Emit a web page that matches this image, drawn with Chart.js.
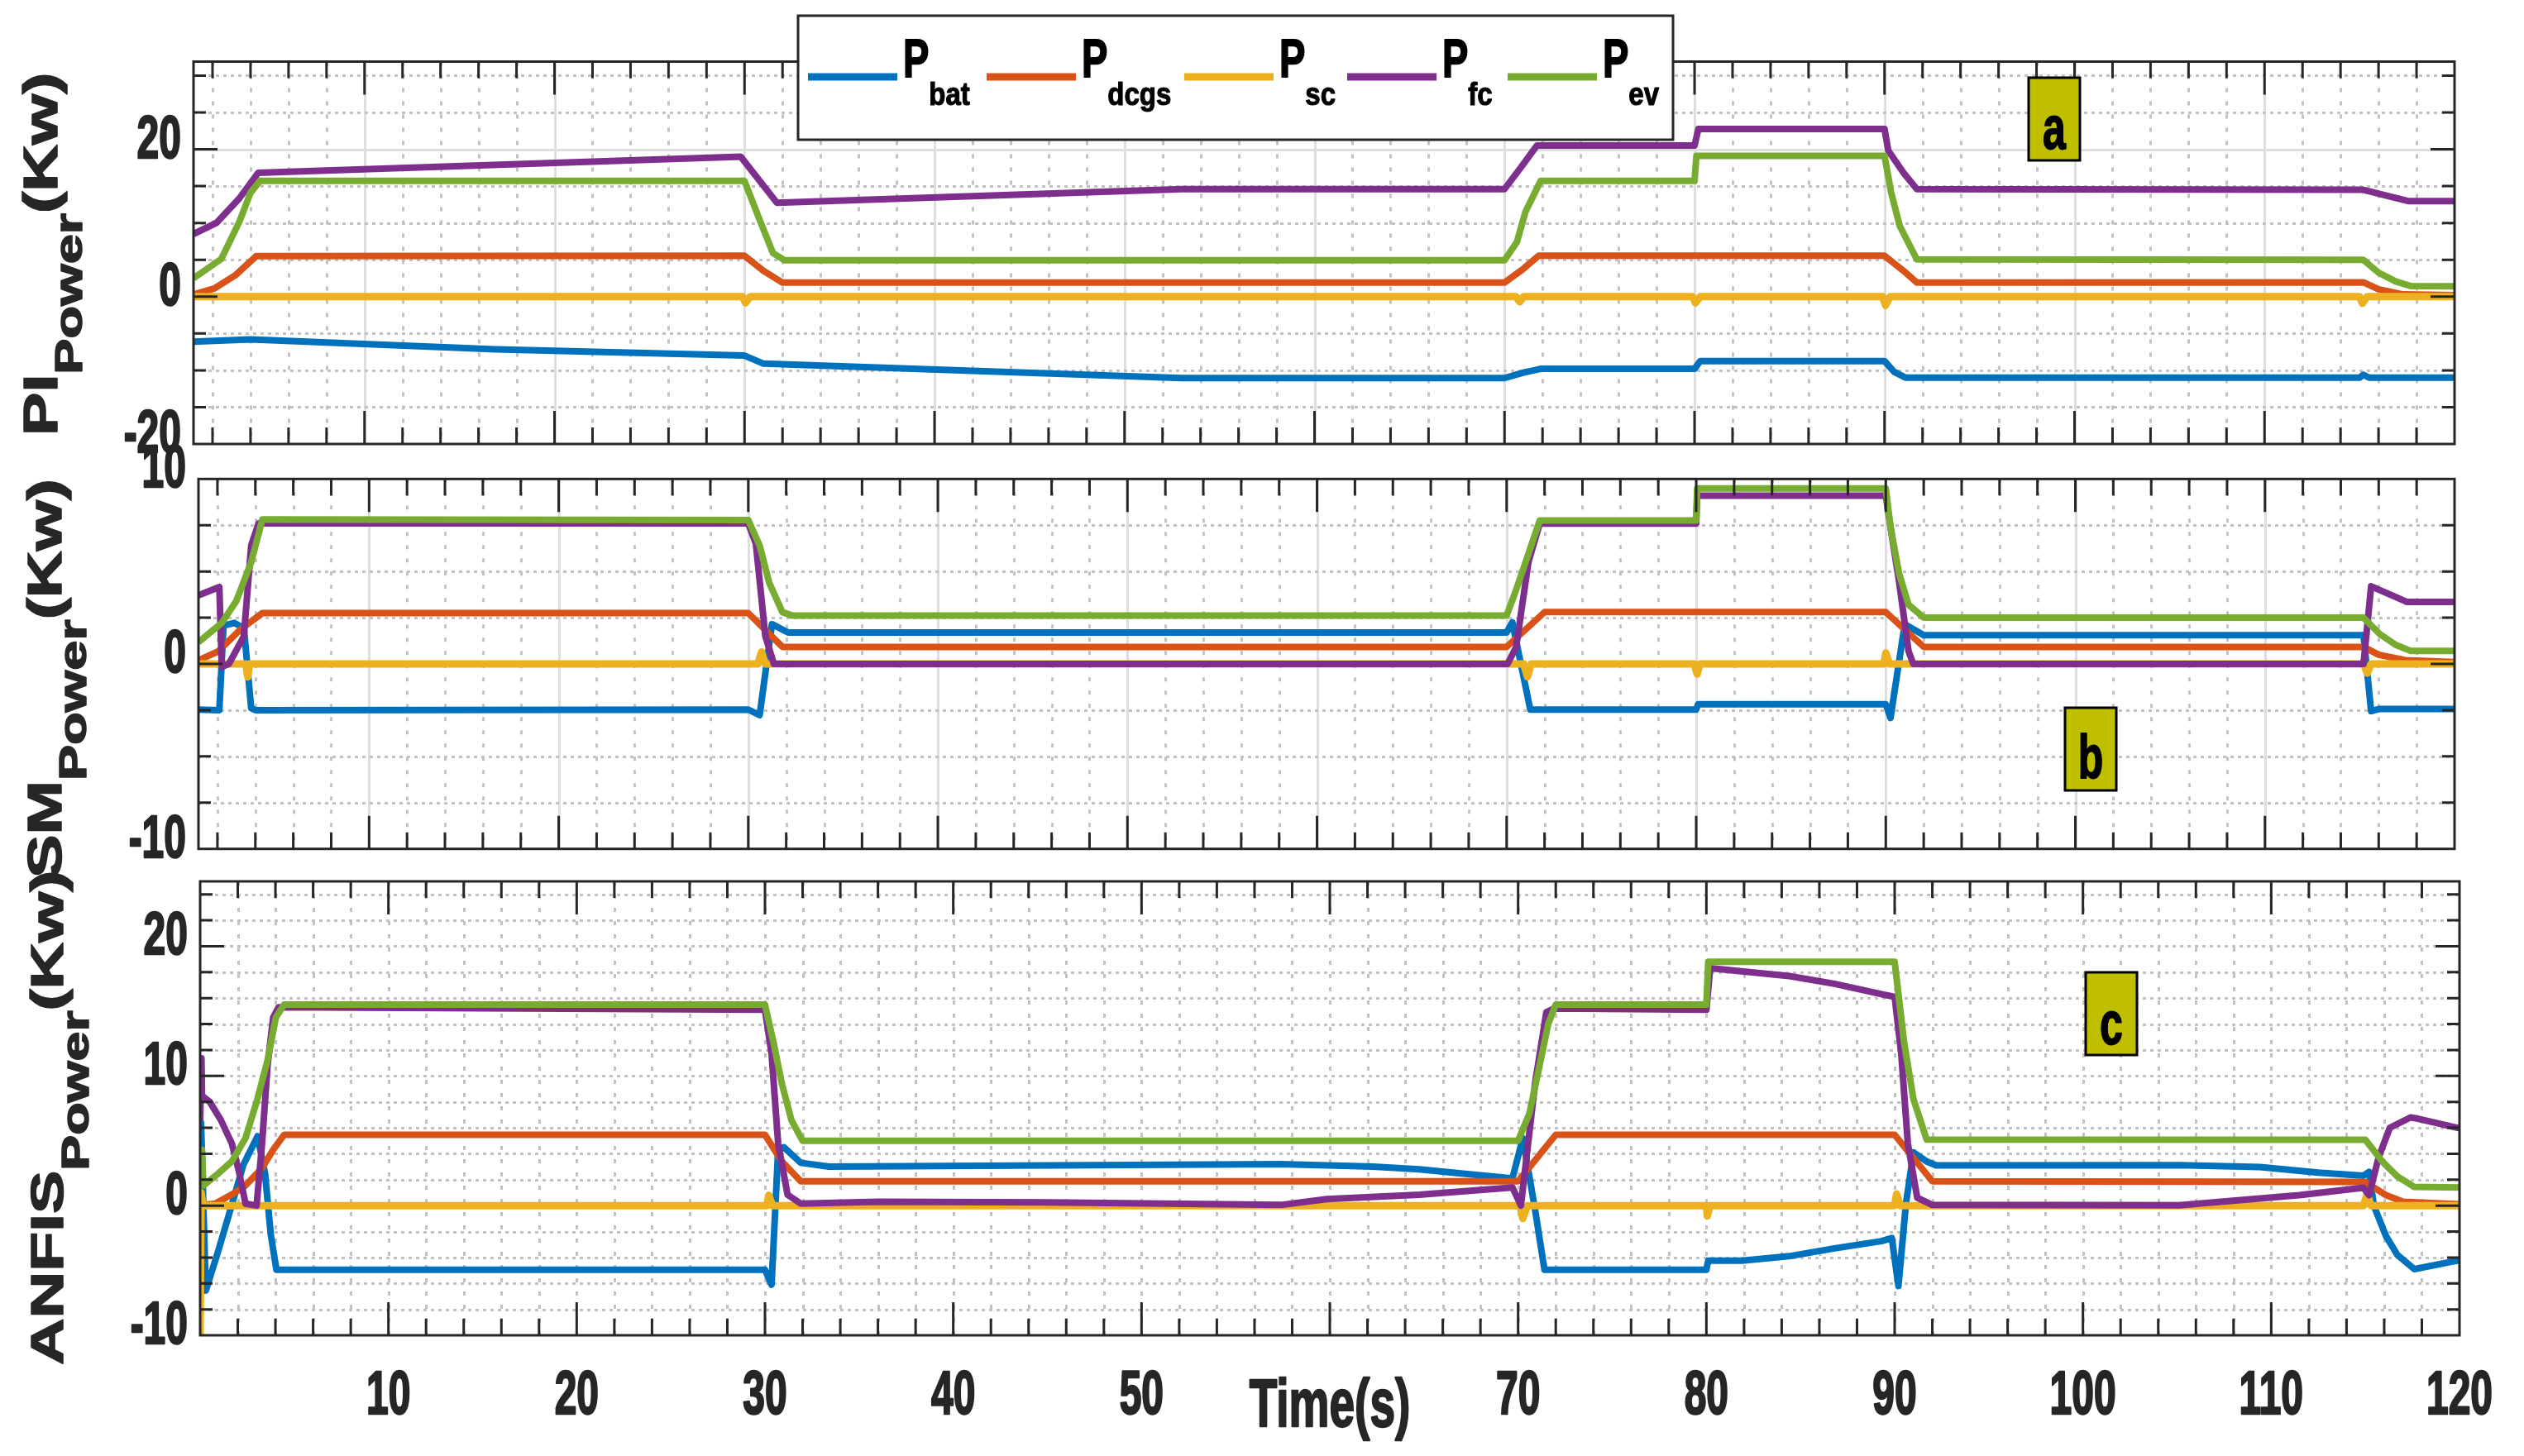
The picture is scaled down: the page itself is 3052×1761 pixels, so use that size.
<!DOCTYPE html>
<html>
<head>
<meta charset="utf-8">
<script src="https://cdn.jsdelivr.net/npm/chart.js@4.4.1/dist/chart.umd.min.js"></script>
<style>
html,body{margin:0;padding:0;background:#ffffff;}
#wrap{position:relative;width:3052px;height:1761px;overflow:hidden;background:#fff;}
canvas{position:absolute;left:0;top:0;}
</style>
</head>
<body>
<div id="wrap">
<canvas id="ca" width="3052" height="1761"></canvas>
<canvas id="cb" width="3052" height="1761"></canvas>
<canvas id="cc" width="3052" height="1761"></canvas>
</div>
<script>
// ---------------- DATA ----------------
const SERIES = ['bat', 'dcgs', 'sc', 'fc', 'ev'];
const COLORS = ['#0072BD', '#D95319', '#EDB120', '#7E2F8E', '#77AC30'];

const X_TICK_LABELS = [10, 20, 30, 40, 50, 70, 80, 90, 100, 110, 120];
const Y_TICKS_A = [-20, 0, 20];
const Y_TICKS_B = [-10, 0, 10];
const Y_TICKS_C = [-10, 0, 10, 20];

// Panel a : PI
const A_BAT_T = [1, 4, 16.9, 30, 31, 53, 70, 71, 71.9, 80, 80.3, 90, 90.5, 91.1, 115, 115.2, 115.5, 120];
const A_BAT_V = [-6.1, -5.8, -7.15, -8.0, -9.1, -11.05, -11.05, -10.3, -9.8, -9.8, -8.75, -8.75, -10.2, -11.0, -11.0, -10.6, -11.0, -11.0];
const A_DCGS_T = [1, 2.1, 3.2, 4.3, 30, 31, 32, 70, 71, 71.8, 90, 91, 91.7, 115.2, 116, 117.3, 120];
const A_DCGS_V = [0.3, 1.1, 2.9, 5.5, 5.55, 3.5, 1.9, 1.9, 3.8, 5.55, 5.55, 3.5, 1.9, 1.94, 1.0, 0.3, 0.2];
const A_SC_T = [1, 29.9, 30.05, 30.3, 70.6, 70.8, 71, 79.9, 80.05, 80.3, 89.9, 90.05, 90.3, 115, 115.15, 115.4, 120];
const A_SC_V = [0, 0, -0.85, 0, 0, -0.7, 0, 0, -0.85, 0, 0, -1.2, 0, 0, -0.9, 0, 0];
const A_FC_T = [1, 2.2, 3.4, 4.0, 4.4, 29.8, 31.7, 53, 70, 70.85, 71.7, 80, 80.2, 90, 90.2, 91, 91.7, 115.2, 117.6, 120];
const A_FC_V = [8.5, 10, 13.3, 15.4, 16.8, 19.0, 12.75, 14.6, 14.6, 17.5, 20.5, 20.5, 22.75, 22.75, 19.8, 16.8, 14.6, 14.5, 12.95, 12.95];
const A_EV_T = [1, 2.46, 3.42, 4.0, 4.5, 30, 30.8, 31.5, 32.1, 70, 70.65, 71.1, 71.9, 80, 80.1, 90, 90.35, 90.8, 91.7, 115.2, 116, 116.9, 117.7, 120];
const A_EV_V = [2.5, 5.1, 10.2, 14.1, 15.7, 15.7, 10.4, 5.9, 4.95, 4.95, 7.4, 11.5, 15.7, 15.7, 19.1, 19.1, 14.1, 9.6, 5.05, 5.0, 3.26, 2.07, 1.43, 1.4];

// Panel b : SM
const B_BAT_T = [1, 2.1, 2.32, 2.9, 3.4, 3.78, 4.0, 30, 30.6, 31.25, 32.1, 70, 70.3, 71.25, 80, 80.1, 90, 90.25, 91, 92, 115.2, 115.6, 116, 120];
const B_BAT_V = [-2.47, -2.5, 2.07, 2.22, 1.92, -2.4, -2.5, -2.47, -2.77, 2.15, 1.7, 1.7, 2.25, -2.47, -2.47, -2.18, -2.18, -2.92, 2.15, 1.55, 1.55, -2.55, -2.44, -2.44];
const B_DCGS_T = [1, 2.03, 3.2, 4.37, 30, 31.8, 70, 72.0, 90, 92, 115.2, 116, 117.4, 120];
const B_DCGS_V = [0.2, 0.67, 1.85, 2.75, 2.75, 0.92, 0.92, 2.8, 2.8, 0.92, 0.92, 0.5, 0.2, 0.1];
const B_SC_T = [1, 3.5, 3.6, 3.7, 30.5, 30.7, 30.9, 70.9, 71.1, 71.3, 79.9, 80.05, 80.2, 89.9, 90, 90.2, 115.2, 115.4, 115.6, 120];
const B_SC_V = [0, 0, -0.7, 0, 0, 0.65, 0, 0, -0.7, 0, 0, -0.55, 0, 0, 0.6, 0, 0, -0.5, 0, 0];
const B_FC_T = [1, 2.1, 2.23, 2.6, 3.39, 3.78, 4.17, 30, 30.4, 30.9, 31.35, 70.05, 70.5, 71.15, 71.75, 80, 80.05, 90, 90.25, 90.7, 91.2, 91.45, 115.2, 115.6, 117.5, 120];
const B_FC_V = [3.71, 4.16, -0.16, 0, 1.48, 6.4, 7.6, 7.6, 6.5, 1.5, 0, 0, 0.9, 5.5, 7.59, 7.59, 9.1, 9.1, 7.4, 4.45, 0.7, 0, 0, 4.2, 3.35, 3.35];
const B_EV_T = [1, 2.23, 3.0, 3.78, 4.37, 30, 30.6, 31.1, 31.8, 32.3, 70, 70.5, 71.0, 71.75, 80, 80.05, 90, 90.25, 90.7, 91.2, 92, 115.2, 116.05, 116.9, 117.7, 120];
const B_EV_V = [1.18, 2.22, 3.41, 5.5, 7.81, 7.78, 6.4, 4.4, 2.8, 2.62, 2.62, 4.0, 5.5, 7.76, 7.76, 9.49, 9.49, 7.4, 4.9, 3.2, 2.5, 2.5, 1.62, 1.03, 0.7, 0.7];

// Panel c : ANFIS
const C_BAT_T = [0, 0.05, 0.3, 0.95, 1.7, 2.3, 3.05, 3.45, 3.75, 4.05, 30, 30.35, 30.7, 31.0, 31.9, 33.4, 57.4, 62.3, 64.75, 67.2, 69.7, 70.25, 70.9, 71.4, 80, 80.1, 81.9, 84.4, 86.8, 89.3, 89.85, 90.2, 90.6, 91, 91.7, 92.2, 105.1, 109.4, 112.5, 114.9, 115.2, 115.45, 116.1, 116.7, 117.6, 119.9, 120];
const C_BAT_V = [1.0, 6.4, -6.56, -3.55, 0.15, 3.15, 5.35, 2.46, -2.2, -4.94, -4.94, -6.1, 4.3, 4.5, 3.3, 3.0, 3.2, 3.0, 2.8, 2.45, 2.1, 5.2, -0.3, -4.94, -4.94, -4.24, -4.24, -3.9, -3.3, -2.74, -2.5, -6.2, 0.15, 4.1, 3.4, 3.1, 3.11, 2.97, 2.54, 2.3, 2.6, 0, -2.36, -3.8, -4.9, -4.24, -4.24];
const C_DCGS_T = [0, 0.8, 1.68, 2.41, 3.29, 3.88, 4.46, 30, 30.9, 31.9, 70, 72, 90, 92, 115, 116.1, 117, 120];
const C_DCGS_V = [0, 0.15, 0.85, 1.55, 2.9, 4.3, 5.46, 5.46, 3.4, 1.88, 1.88, 5.46, 5.46, 1.88, 1.82, 0.8, 0.3, 0.1];
const C_SC_T = [0, 0.05, 0.15, 30.1, 30.2, 30.4, 70.1, 70.25, 70.5, 80, 80.05, 80.2, 90, 90.1, 90.3, 114.9, 115.1, 115.3, 120];
const C_SC_V = [-10, 1.0, 0, 0, 0.8, 0, 0, -1.0, 0, 0, -0.8, 0, 0, 0.9, 0, 0, 0.9, 0, 0];
const C_FC_T = [0, 0.07, 0.1, 0.51, 1.1, 1.68, 2.05, 2.41, 3.0, 3.29, 3.58, 3.88, 4.17, 30, 30.35, 30.7, 31.2, 31.9, 36, 45, 57.4, 59.85, 64.75, 69.7, 70.15, 70.9, 71.5, 71.9, 80, 80.2, 84.4, 86.8, 89.3, 90, 90.35, 90.7, 91.2, 92, 105.1, 111.5, 114.9, 115.2, 115.7, 116.3, 117.4, 117.8, 119.9, 120];
const C_FC_V = [6.5, 11.35, 8.47, 8.0, 6.6, 4.8, 2.7, 0.15, 0, 4.8, 10.8, 14.5, 15.3, 15.1, 11.7, 4.8, 0.84, 0.15, 0.3, 0.25, 0.05, 0.5, 0.84, 1.4, 0, 9.4, 14.9, 15.2, 15.1, 18.3, 17.7, 17.1, 16.3, 16.1, 11.7, 4.8, 0.6, 0.05, 0.03, 0.8, 1.38, 0.8, 3.7, 6.0, 6.8, 6.7, 6.0, 6.0];
const C_EV_T = [0, 0.1, 0.17, 0.95, 1.68, 2.41, 3.0, 3.58, 4.02, 4.46, 30, 30.45, 30.9, 31.4, 32, 70, 70.6, 71.1, 71.6, 72, 80, 80.1, 90, 90.5, 91, 91.7, 115, 115.9, 116.7, 117.6, 120];
const C_EV_V = [2.7, 4.3, 1.55, 2.46, 3.4, 5.2, 8.0, 11.2, 14.5, 15.5, 15.5, 12.6, 9.4, 6.6, 5.0, 5.0, 7.1, 10.5, 14.0, 15.5, 15.5, 18.8, 18.8, 12.6, 8.2, 5.1, 5.08, 3.4, 2.25, 1.44, 1.4];

// ---------------- DRAWING HELPERS ----------------
const TXT = '#262626';
const FONT = '"Liberation Sans", Arial, Helvetica, sans-serif';

function pts(t, v) { return t.map((x, i) => ({ x: x, y: v[i] })); }

function stretchText(ctx, txt, x, y, size, sy, align, color, stroke) {
  ctx.save();
  ctx.translate(x, y);
  ctx.scale(1, sy);
  ctx.font = 'bold ' + size + 'px ' + FONT;
  ctx.textAlign = align;
  ctx.textBaseline = 'alphabetic';
  ctx.fillStyle = color || TXT;
  ctx.fillText(txt, 0, 0);
  if (stroke) {
    ctx.strokeStyle = color || TXT;
    ctx.lineWidth = stroke;
    ctx.lineJoin = 'round';
    ctx.strokeText(txt, 0, 0);
  }
  ctx.restore();
}

function rotTitle(ctx, parts, bx, by, sx) {
  ctx.save();
  ctx.translate(bx, by);
  ctx.rotate(-Math.PI / 2);
  ctx.scale(sx, 1);
  ctx.fillStyle = TXT;
  ctx.strokeStyle = TXT;
  ctx.lineWidth = 1.5;
  ctx.lineJoin = 'round';
  ctx.textAlign = 'left';
  ctx.textBaseline = 'alphabetic';
  let cx = 0;
  for (const p of parts) {
    ctx.font = 'bold ' + p.size + 'px ' + FONT;
    ctx.fillText(p.text, cx, p.dy);
    ctx.strokeText(p.text, cx, p.dy);
    cx += ctx.measureText(p.text).width + (p.gap || 0);
  }
  ctx.restore();
}

function makePlugin(cfg) {
  return {
    id: 'matlab_' + cfg.id,
    beforeDatasetsDraw(chart) {
      const ctx = chart.ctx, a = chart.chartArea, xs = chart.scales.x, ys = chart.scales.y;
      ctx.save();
      ctx.beginPath();
      ctx.rect(a.left, a.top, a.right - a.left, a.bottom - a.top);
      ctx.clip();
      ctx.lineWidth = 3;
      // vertical grid
      for (let k = 1; k * 2 < 120; k++) {
        const t = k * 2;
        if (t <= cfg.xMin) continue;
        const px = Math.round(xs.getPixelForValue(t)) + 0.5;
        const major = (t % 10 === 0);
        ctx.beginPath();
        if (major && cfg.solidX) {
          ctx.setLineDash([]);
          ctx.strokeStyle = '#dedede';
        } else {
          ctx.setLineDash([5, 11]);
          ctx.strokeStyle = '#c2c2c2';
        }
        ctx.moveTo(px, a.top);
        ctx.lineTo(px, a.bottom);
        ctx.stroke();
      }
      // horizontal grid
      const n0 = Math.ceil(cfg.yMin / cfg.yStep), n1 = Math.floor(cfg.yMax / cfg.yStep);
      for (let k = n0; k <= n1; k++) {
        const v = k * cfg.yStep;
        if (v <= cfg.yMin || v >= cfg.yMax) continue;
        const py = Math.round(ys.getPixelForValue(v)) + 0.5;
        const major = cfg.yTicks.indexOf(v) >= 0;
        ctx.beginPath();
        if (major && cfg.solidY) {
          ctx.setLineDash([]);
          ctx.strokeStyle = '#dedede';
        } else {
          ctx.setLineDash([4, 5]);
          ctx.strokeStyle = '#c2c2c2';
        }
        ctx.moveTo(a.left, py);
        ctx.lineTo(a.right, py);
        ctx.stroke();
      }
      ctx.restore();
    },
    afterDatasetsDraw(chart) {
      const ctx = chart.ctx, a = chart.chartArea, xs = chart.scales.x, ys = chart.scales.y;
      ctx.save();
      ctx.strokeStyle = TXT;
      ctx.lineWidth = 3;
      ctx.setLineDash([]);
      // x ticks (top and bottom, inward)
      for (let k = 1; k * 2 < 120; k++) {
        const t = k * 2;
        if (t <= cfg.xMin) continue;
        const px = xs.getPixelForValue(t);
        const len = (t % 10 === 0) ? 40 : 20;
        ctx.beginPath();
        ctx.moveTo(px, a.bottom); ctx.lineTo(px, a.bottom - len);
        ctx.moveTo(px, a.top); ctx.lineTo(px, a.top + len);
        ctx.stroke();
      }
      // y ticks (left and right, inward)
      const n0 = Math.ceil(cfg.yMin / cfg.yStep), n1 = Math.floor(cfg.yMax / cfg.yStep);
      for (let k = n0; k <= n1; k++) {
        const v = k * cfg.yStep;
        if (v <= cfg.yMin || v >= cfg.yMax) continue;
        const py = ys.getPixelForValue(v);
        const len = cfg.yTicks.indexOf(v) >= 0 ? 29 : 15;
        ctx.beginPath();
        ctx.moveTo(a.left, py); ctx.lineTo(a.left + len, py);
        ctx.moveTo(a.right, py); ctx.lineTo(a.right - len, py);
        ctx.stroke();
      }
      // box
      ctx.strokeRect(a.left, a.top, a.right - a.left, a.bottom - a.top);
      ctx.restore();
    },
    afterDraw(chart) {
      const ctx = chart.ctx, a = chart.chartArea, xs = chart.scales.x, ys = chart.scales.y;
      // y tick labels
      for (const v of cfg.yTicks) {
        const py = ys.getPixelForValue(v);
        stretchText(ctx, String(v), a.left - 15, py + 10, 48, 1.5, 'right', TXT, 1.6);
      }
      // x tick labels + x title (bottom panel only)
      if (cfg.xLabels) {
        for (const t of X_TICK_LABELS) {
          stretchText(ctx, String(t), xs.getPixelForValue(t), a.bottom + 95, 48, 1.53, 'center', TXT, 1.6);
        }
        stretchText(ctx, 'Time(s)', xs.getPixelForValue(60), a.bottom + 110, 55, 1.47, 'center', TXT, 1.6);
      }
      // y title
      rotTitle(ctx, cfg.title, cfg.titleX, cfg.titleY, cfg.titleSx);
      // panel letter box
      const b = cfg.tag;
      ctx.save();
      ctx.fillStyle = '#BFBF00';
      ctx.fillRect(b.x, b.y, b.w, b.h);
      ctx.strokeStyle = '#000';
      ctx.lineWidth = 3;
      ctx.strokeRect(b.x, b.y, b.w, b.h);
      ctx.restore();
      stretchText(ctx, b.letter, b.x + b.w / 2, b.base, 50, 1.5, 'center', '#000', 1.2);
      // legend (top panel)
      if (cfg.legend) {
        ctx.save();
        ctx.fillStyle = '#fff';
        ctx.fillRect(965, 19, 1058, 150);
        ctx.strokeStyle = TXT;
        ctx.lineWidth = 3;
        ctx.strokeRect(965, 19, 1058, 150);
        const lx = [977, 1193, 1432, 1629, 1823];
        for (let i = 0; i < SERIES.length; i++) {
          ctx.beginPath();
          ctx.strokeStyle = COLORS[i];
          ctx.lineWidth = 9;
          ctx.moveTo(lx[i], 93);
          ctx.lineTo(lx[i] + 108, 93);
          ctx.stroke();
          stretchText(ctx, 'P', lx[i] + 115, 93, 47, 1.37, 'left', '#000', 1.4);
          ctx.font = 'bold 47px ' + FONT;
          const pw = ctx.measureText('P').width;
          stretchText(ctx, SERIES[i], lx[i] + 115 + pw, 127, 33, 1.2, 'left', '#000', 1.0);
        }
        ctx.restore();
      }
    }
  };
}

function makeChart(id, cfg, series) {
  const datasets = series.map((s, i) => ({
    label: 'P' + SERIES[i],
    data: pts(s[0], s[1]),
    borderColor: COLORS[i],
    backgroundColor: COLORS[i],
    borderWidth: i === 2 ? 9 : 8,
    pointRadius: 0,
    tension: 0,
    fill: false,
    borderJoinStyle: 'round',
    borderCapStyle: 'butt',
    order: SERIES.length - 1 - i
  }));
  return new Chart(document.getElementById(id), {
    type: 'line',
    data: { datasets: datasets },
    options: {
      responsive: false,
      animation: false,
      devicePixelRatio: 1,
      events: [],
      layout: { padding: { left: cfg.area[0], top: cfg.area[1], right: 3052 - cfg.area[2], bottom: 1761 - cfg.area[3] } },
      plugins: { legend: { display: false }, tooltip: { enabled: false } },
      scales: {
        x: { type: 'linear', min: cfg.xMin, max: 120, display: false },
        y: { type: 'linear', min: cfg.yMin, max: cfg.yMax, display: false }
      }
    },
    plugins: [makePlugin(cfg)]
  });
}

makeChart('ca', {
  id: 'a', area: [234, 74.5, 2968, 537], xMin: 1, yMin: -20, yMax: 31.9, yStep: 5,
  yTicks: Y_TICKS_A, solidX: true, solidY: true, xLabels: false, legend: true,
  title: [{ text: 'PI', size: 57, dy: 0 }, { text: 'Power', size: 47, dy: 30 }, { text: '(Kw)', size: 57, dy: 0 }],
  titleX: 69, titleY: 527, titleSx: 1.38,
  tag: { x: 2453, y: 94, w: 62, h: 100, letter: 'a', base: 180 }
}, [[A_BAT_T, A_BAT_V], [A_DCGS_T, A_DCGS_V], [A_SC_T, A_SC_V], [A_FC_T, A_FC_V], [A_EV_T, A_EV_V]]);

makeChart('cb', {
  id: 'b', area: [240, 579.3, 2968, 1026.7], xMin: 1, yMin: -10, yMax: 10, yStep: 2.5,
  yTicks: Y_TICKS_B, solidX: true, solidY: true, xLabels: false, legend: false,
  title: [{ text: 'SM', size: 57, dy: 0 }, { text: 'Power', size: 47, dy: 30 }, { text: '(Kw)', size: 57, dy: 0 }],
  titleX: 74, titleY: 1062, titleSx: 1.38,
  tag: { x: 2497, y: 856, w: 62, h: 100, letter: 'b', base: 941 }
}, [[B_BAT_T, B_BAT_V], [B_DCGS_T, B_DCGS_V], [B_SC_T, B_SC_V], [B_FC_T, B_FC_V], [B_EV_T, B_EV_V]]);

makeChart('cc', {
  id: 'c', area: [242, 1066, 2974, 1615], xMin: 0, yMin: -10, yMax: 25, yStep: 2,
  yTicks: Y_TICKS_C, solidX: false, solidY: false, xLabels: true, legend: false,
  title: [{ text: 'ANFIS', size: 56, dy: 0 }, { text: 'Power', size: 46, dy: 31 }, { text: '(Kw)', size: 56, dy: 0 }],
  titleX: 76, titleY: 1651, titleSx: 1.4,
  tag: { x: 2522, y: 1176, w: 62, h: 100, letter: 'c', base: 1263 }
}, [[C_BAT_T, C_BAT_V], [C_DCGS_T, C_DCGS_V], [C_SC_T, C_SC_V], [C_FC_T, C_FC_V], [C_EV_T, C_EV_V]]);
</script>
</body>
</html>
